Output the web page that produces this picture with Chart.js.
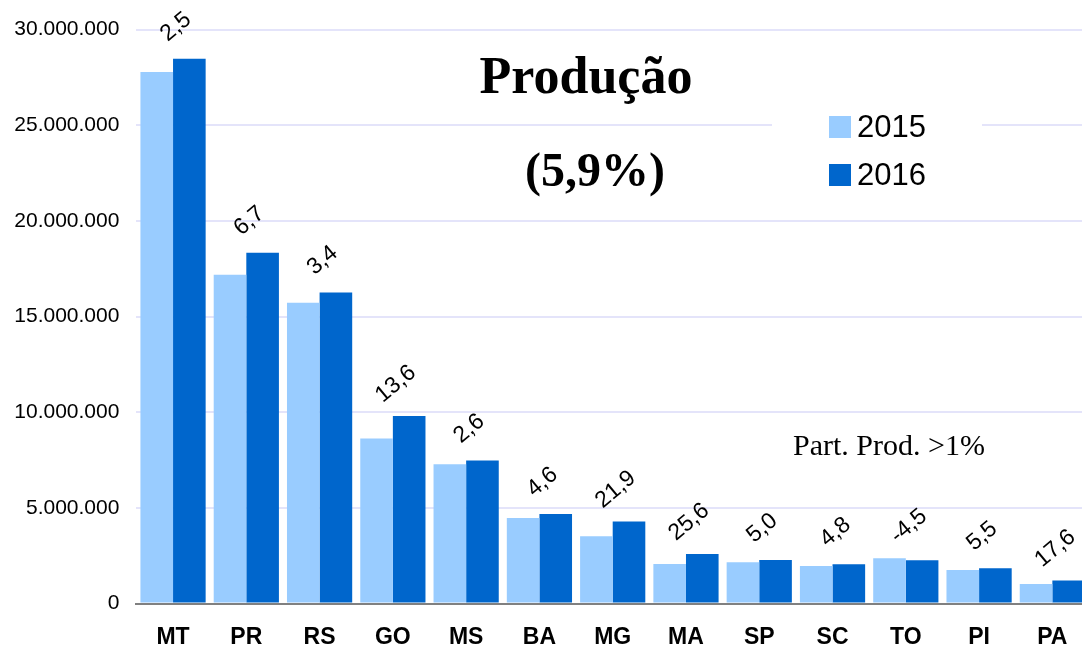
<!DOCTYPE html>
<html lang="pt-BR">
<head>
<meta charset="utf-8">
<title>Produção</title>
<script src="https://cdn.jsdelivr.net/npm/chart.js@4.4.1/dist/chart.umd.min.js"></script>
<style>
  html, body { margin: 0; padding: 0; background: #fff; overflow: hidden; }
  #wrap { width: 1089px; height: 646px; }
</style>
</head>
<body>
<div id="wrap"><canvas id="grafico" width="1089" height="646"></canvas></div>
<script>
// estados com participação na produção > 1%
var estados = ['MT', 'PR', 'RS', 'GO', 'MS', 'BA', 'MG', 'MA', 'SP', 'SC', 'TO', 'PI', 'PA'];
var prod2015 = [27780000, 17180000, 15720000, 8630000, 7280000, 4470000, 3520000, 2060000, 2160000, 1960000, 2370000, 1750000, 1020000];
var prod2016 = [28470000, 18330000, 16260000, 9800000, 7470000, 4675000, 4290000, 2587000, 2268000, 2054000, 2263000, 1846000, 1200000];
// variação 2016/2015 (%)
var variacao = [2.5, 6.7, 3.4, 13.6, 2.6, 4.6, 21.9, 25.6, 5.0, 4.8, -4.5, 5.5, 17.6];
var eixoY = { min: 0, max: 30000000, passo: 5000000 };

var corClara = '#99CCFF';
var corEscura = '#0066CC';

function milhar(v) {
    return String(Math.round(v)).replace(/\B(?=(\d{3})+(?!\d))/g, '.');
}
function decimal(v) {
    return v.toFixed(1).replace('.', ',');
}

var anotacoes = {
    id: 'anotacoes',
    beforeDatasetsDraw: function (chart) {
        // fundo branco da legenda por cima da grade
        var ctx = chart.ctx;
        ctx.save();
        ctx.fillStyle = '#fff';
        ctx.fillRect(772, 100, 210, 100);
        ctx.restore();
    },
    afterDraw: function (chart) {
        var ctx = chart.ctx;
        var x = chart.scales.x, y = chart.scales.y;
        ctx.save();
        ctx.fillStyle = '#000';

        // rótulos de variação, inclinados
        ctx.font = '23px "Liberation Sans", Arial, sans-serif';
        ctx.textAlign = 'center';
        ctx.textBaseline = 'middle';
        estados.forEach(function (e, i) {
            var topo = y.getPixelForValue(Math.max(prod2015[i], prod2016[i]));
            ctx.save();
            ctx.translate(x.getPixelForValue(i) + 3, topo - 32);
            ctx.rotate(-40 * Math.PI / 180);
            ctx.fillText(decimal(variacao[i]), 0, 0);
            ctx.restore();
        });

        // títulos
        ctx.textBaseline = 'alphabetic';
        ctx.font = 'bold 52px "Liberation Serif", "Times New Roman", serif';
        ctx.fillText('Produção', 586, 93);
        ctx.font = 'bold 48px "Liberation Serif", "Times New Roman", serif';
        ctx.fillText('(5,9%)', 595, 186);
        ctx.font = '30px "Liberation Serif", "Times New Roman", serif';
        ctx.fillText('Part. Prod. >1%', 889, 455);

        // legenda
        ctx.textAlign = 'left';
        ctx.font = '31px "Liberation Sans", Arial, sans-serif';
        chart.data.datasets.forEach(function (ds, k) {
            var ly = 116 + k * 48;
            ctx.fillStyle = ds.backgroundColor;
            ctx.fillRect(829, ly, 22, 22);
            ctx.fillStyle = '#000';
            ctx.fillText(ds.label, 857, ly + 21);
        });
        ctx.restore();
    }
};

var grafico = new Chart(document.getElementById('grafico').getContext('2d'), {
    type: 'bar',
    data: {
        labels: estados,
        datasets: [
            { label: '2015', data: prod2015, backgroundColor: corClara, borderWidth: 0 },
            { label: '2016', data: prod2016, backgroundColor: corEscura, borderWidth: 0 }
        ]
    },
    options: {
        responsive: false,
        animation: false,
        layout: { padding: { top: 28, left: 0, right: 0, bottom: 0 } },
        datasets: { bar: { barPercentage: 1.0, categoryPercentage: 0.89 } },
        plugins: {
            legend: { display: false },
            title: { display: false },
            tooltip: { enabled: false }
        },
        scales: {
            x: {
                grid: { display: false, drawTicks: false },
                border: { color: '#808080', width: 2 },
                ticks: {
                    color: '#000',
                    padding: 20,
                    font: { family: '"Liberation Sans", Arial, sans-serif', size: 23, weight: 'bold' }
                },
                afterFit: function (s) { s.height = 42.5; }
            },
            y: {
                min: eixoY.min,
                max: eixoY.max,
                grid: { color: '#E4E4FA', lineWidth: 2, drawTicks: false },
                border: { display: false },
                ticks: {
                    stepSize: eixoY.passo,
                    color: '#000',
                    padding: 17,
                    font: { family: '"Liberation Sans", Arial, sans-serif', size: 21 },
                    callback: function (v) { return milhar(v); }
                },
                afterFit: function (s) { s.width = 136.4; }
            }
        }
    },
    plugins: [anotacoes]
});
</script>
</body>
</html>
